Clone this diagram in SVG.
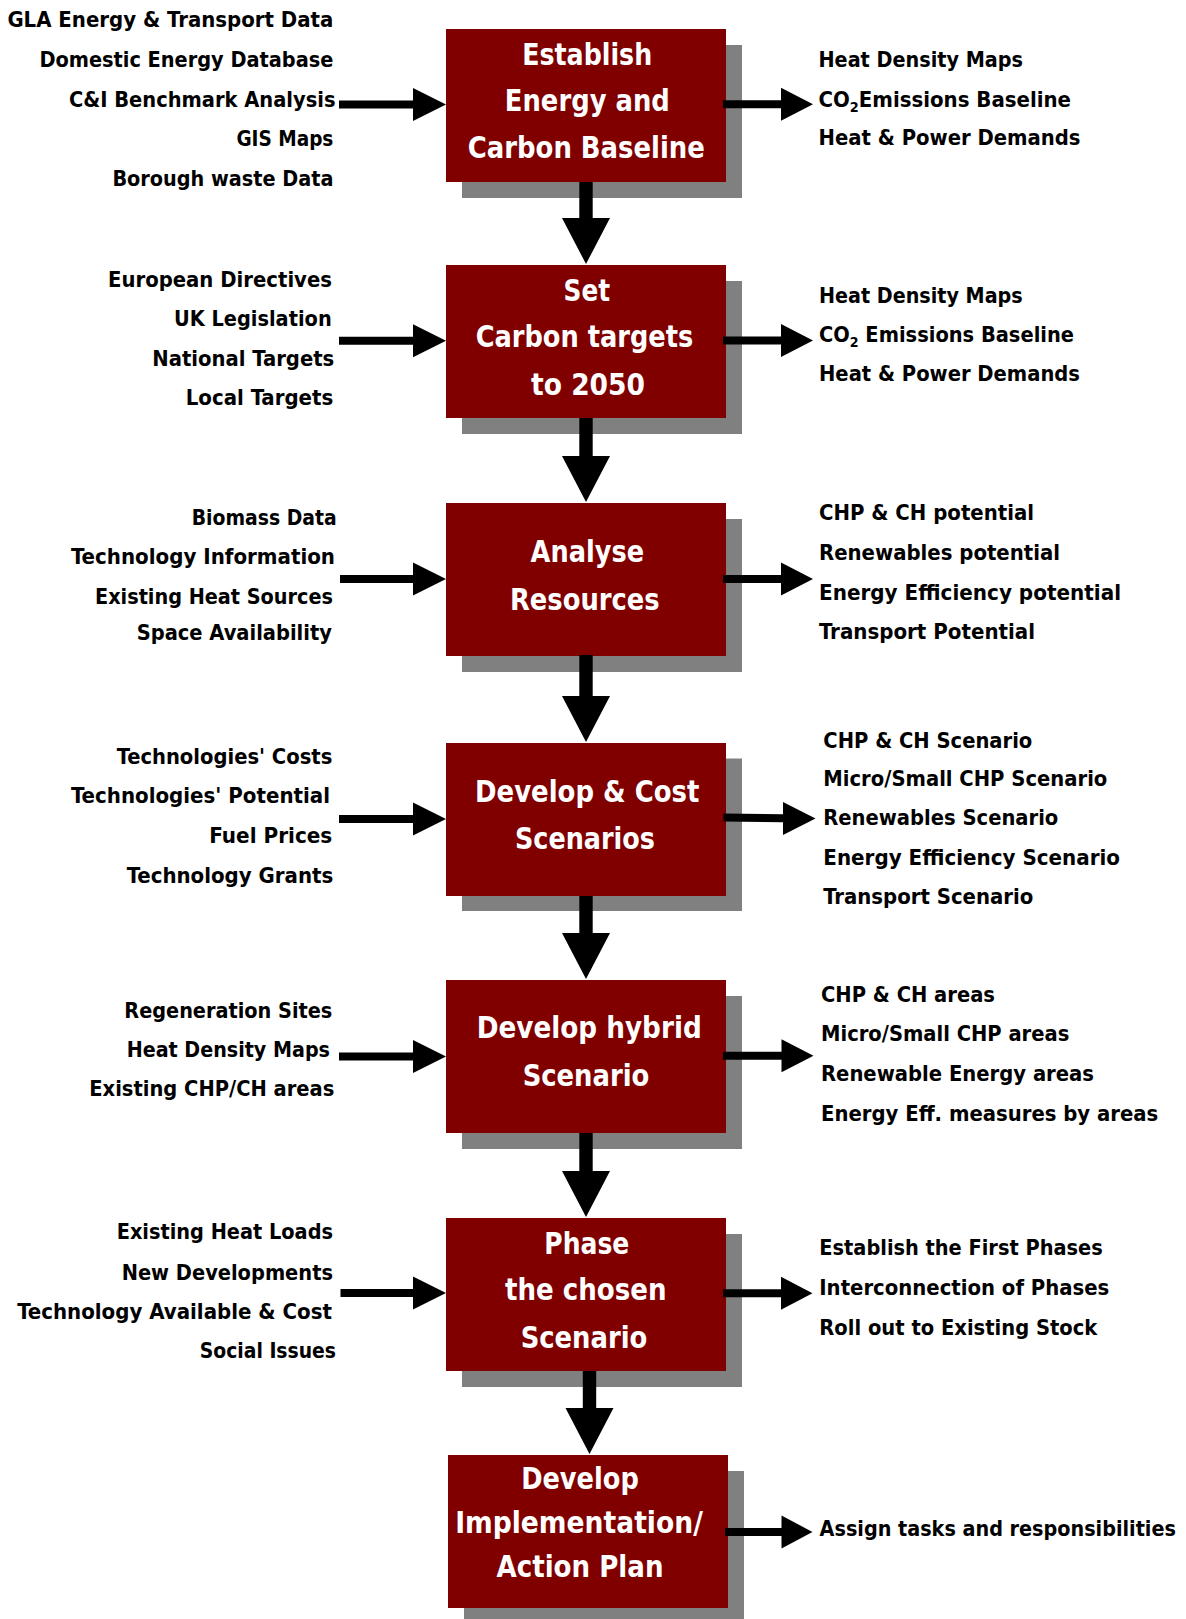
<svg xmlns="http://www.w3.org/2000/svg" width="1186" height="1619" viewBox="0 0 1186 1619">
<style>
.lbl{font-family:"DejaVu Sans Condensed","DejaVu Sans","Liberation Sans",sans-serif;font-stretch:condensed;font-weight:bold;font-size:21.5px;fill:#000}
.l{text-anchor:end}
.bt{font-family:"DejaVu Sans Condensed","DejaVu Sans","Liberation Sans",sans-serif;font-stretch:condensed;font-weight:bold;font-size:30px;fill:#fff;text-anchor:middle}
.box{fill:#800000}
.sh{fill:#808080}
.arr{fill:#000}
.sub{font-size:14px}
</style>
<rect width="1186" height="1619" fill="#fff"/>

<g id="node1">
<rect class="sh" x="462" y="45" width="280" height="153"/>
<rect class="box" x="446" y="29" width="280" height="153"/>
<text class="bt" x="587.2" y="64.5" textLength="130" lengthAdjust="spacingAndGlyphs">Establish</text>
<text class="bt" x="587.3" y="111" textLength="165" lengthAdjust="spacingAndGlyphs">Energy and</text>
<text class="bt" x="586.3" y="158" textLength="237" lengthAdjust="spacingAndGlyphs">Carbon Baseline</text>
</g>
<g id="node2">
<rect class="sh" x="462" y="281" width="280" height="153"/>
<rect class="box" x="446" y="265" width="280" height="153"/>
<text class="bt" x="586.8" y="301" textLength="46.5" lengthAdjust="spacingAndGlyphs">Set</text>
<text class="bt" x="584.5" y="347.3" textLength="217.6" lengthAdjust="spacingAndGlyphs">Carbon targets</text>
<text class="bt" x="588" y="394.8" textLength="114" lengthAdjust="spacingAndGlyphs">to 2050</text>
</g>
<g id="node3">
<rect class="sh" x="462" y="519" width="280" height="153"/>
<rect class="box" x="446" y="503" width="280" height="153"/>
<text class="bt" x="587.3" y="562" textLength="113.5" lengthAdjust="spacingAndGlyphs">Analyse</text>
<text class="bt" x="584.8" y="609.5" textLength="149.7" lengthAdjust="spacingAndGlyphs">Resources</text>
</g>
<g id="node4">
<rect class="sh" x="462" y="758.5" width="280" height="152.5"/>
<rect class="box" x="446" y="743" width="280" height="153"/>
<text class="bt" x="587.2" y="801.7" textLength="224.3" lengthAdjust="spacingAndGlyphs">Develop &amp; Cost</text>
<text class="bt" x="585" y="849" textLength="140" lengthAdjust="spacingAndGlyphs">Scenarios</text>
</g>
<g id="node5">
<rect class="sh" x="462" y="996" width="280" height="153"/>
<rect class="box" x="446" y="980" width="280" height="153"/>
<text class="bt" x="589.2" y="1038.3" textLength="225" lengthAdjust="spacingAndGlyphs">Develop hybrid</text>
<text class="bt" x="586" y="1086" textLength="126.7" lengthAdjust="spacingAndGlyphs">Scenario</text>
</g>
<g id="node6">
<rect class="sh" x="462" y="1234" width="280" height="153"/>
<rect class="box" x="446" y="1218" width="280" height="153"/>
<text class="bt" x="586.8" y="1254" textLength="85" lengthAdjust="spacingAndGlyphs">Phase</text>
<text class="bt" x="585.8" y="1300" textLength="161.7" lengthAdjust="spacingAndGlyphs">the chosen</text>
<text class="bt" x="584" y="1348.3" textLength="126.7" lengthAdjust="spacingAndGlyphs">Scenario</text>
</g>
<g id="node7">
<rect class="sh" x="464" y="1471" width="280" height="153"/>
<rect class="box" x="448" y="1455" width="280" height="153"/>
<text class="bt" x="580" y="1489" textLength="117.7" lengthAdjust="spacingAndGlyphs">Develop</text>
<text class="bt" x="579" y="1532.5" textLength="247.7" lengthAdjust="spacingAndGlyphs">Implementation/</text>
<text class="bt" x="580" y="1577" textLength="167" lengthAdjust="spacingAndGlyphs">Action Plan</text>
</g>

<g id="inputs1">
<text class="lbl l" x="333.4" y="26.6" textLength="326" lengthAdjust="spacingAndGlyphs">GLA Energy &amp; Transport Data</text>
<text class="lbl l" x="333.4" y="66.8" textLength="294" lengthAdjust="spacingAndGlyphs">Domestic Energy Database</text>
<text class="lbl l" x="335.5" y="107" textLength="266.5" lengthAdjust="spacingAndGlyphs">C&amp;I Benchmark Analysis</text>
<text class="lbl l" x="333.4" y="146.3" textLength="97" lengthAdjust="spacingAndGlyphs">GIS Maps</text>
<text class="lbl l" x="333.4" y="185.5" textLength="221" lengthAdjust="spacingAndGlyphs">Borough waste Data</text>
</g>
<g id="inputs2">
<text class="lbl l" x="332" y="286.7" textLength="224" lengthAdjust="spacingAndGlyphs">European Directives</text>
<text class="lbl l" x="331.7" y="326.3" textLength="157.7" lengthAdjust="spacingAndGlyphs">UK Legislation</text>
<text class="lbl l" x="334.3" y="366" textLength="182" lengthAdjust="spacingAndGlyphs">National Targets</text>
<text class="lbl l" x="333.3" y="405" textLength="147.6" lengthAdjust="spacingAndGlyphs">Local Targets</text>
</g>
<g id="inputs3">
<text class="lbl l" x="336.7" y="524.7" textLength="145" lengthAdjust="spacingAndGlyphs">Biomass Data</text>
<text class="lbl l" x="335" y="564" textLength="264" lengthAdjust="spacingAndGlyphs">Technology Information</text>
<text class="lbl l" x="333" y="604" textLength="238" lengthAdjust="spacingAndGlyphs">Existing Heat Sources</text>
<text class="lbl l" x="332" y="640" textLength="195.3" lengthAdjust="spacingAndGlyphs">Space Availability</text>
</g>
<g id="inputs4">
<text class="lbl l" x="332.3" y="764" textLength="215.6" lengthAdjust="spacingAndGlyphs">Technologies' Costs</text>
<text class="lbl l" x="330" y="803" textLength="259" lengthAdjust="spacingAndGlyphs">Technologies' Potential</text>
<text class="lbl l" x="332.3" y="843" textLength="123" lengthAdjust="spacingAndGlyphs">Fuel Prices</text>
<text class="lbl l" x="333.3" y="883" textLength="206.6" lengthAdjust="spacingAndGlyphs">Technology Grants</text>
</g>
<g id="inputs5">
<text class="lbl l" x="332.3" y="1018" textLength="208" lengthAdjust="spacingAndGlyphs">Regeneration Sites</text>
<text class="lbl l" x="330" y="1057.3" textLength="203.3" lengthAdjust="spacingAndGlyphs">Heat Density Maps</text>
<text class="lbl l" x="334.3" y="1096.3" textLength="245" lengthAdjust="spacingAndGlyphs">Existing CHP/CH areas</text>
</g>
<g id="inputs6">
<text class="lbl l" x="333" y="1239.4" textLength="216.3" lengthAdjust="spacingAndGlyphs">Existing Heat Loads</text>
<text class="lbl l" x="333" y="1279.7" textLength="211.3" lengthAdjust="spacingAndGlyphs">New Developments</text>
<text class="lbl l" x="332" y="1318.9" textLength="314.8" lengthAdjust="spacingAndGlyphs">Technology Available &amp; Cost</text>
<text class="lbl l" x="336" y="1358.1" textLength="136.2" lengthAdjust="spacingAndGlyphs">Social Issues</text>
</g>

<g id="outputs1">
<text class="lbl" x="818.5" y="66.8" textLength="204.5" lengthAdjust="spacingAndGlyphs">Heat Density Maps</text>
<text class="lbl" x="818.5" y="107" textLength="252.5" lengthAdjust="spacingAndGlyphs">CO<tspan class="sub" dy="5">2</tspan><tspan dy="-5">Emissions Baseline</tspan></text>
<text class="lbl" x="818.5" y="145.3" textLength="262" lengthAdjust="spacingAndGlyphs">Heat &amp; Power Demands</text>
</g>
<g id="outputs2">
<text class="lbl" x="819" y="303" textLength="203.7" lengthAdjust="spacingAndGlyphs">Heat Density Maps</text>
<text class="lbl" x="819" y="342" textLength="255" lengthAdjust="spacingAndGlyphs">CO<tspan class="sub" dy="5">2</tspan><tspan dy="-5"> Emissions Baseline</tspan></text>
<text class="lbl" x="819" y="381.3" textLength="261" lengthAdjust="spacingAndGlyphs">Heat &amp; Power Demands</text>
</g>
<g id="outputs3">
<text class="lbl" x="819" y="520.3" textLength="215" lengthAdjust="spacingAndGlyphs">CHP &amp; CH potential</text>
<text class="lbl" x="819" y="559.7" textLength="241" lengthAdjust="spacingAndGlyphs">Renewables potential</text>
<text class="lbl" x="819" y="599.7" textLength="302" lengthAdjust="spacingAndGlyphs">Energy Efficiency potential</text>
<text class="lbl" x="819" y="639" textLength="216" lengthAdjust="spacingAndGlyphs">Transport Potential</text>
</g>
<g id="outputs4">
<text class="lbl" x="823.3" y="748" textLength="209" lengthAdjust="spacingAndGlyphs">CHP &amp; CH Scenario</text>
<text class="lbl" x="823.3" y="786.3" textLength="284" lengthAdjust="spacingAndGlyphs">Micro/Small CHP Scenario</text>
<text class="lbl" x="823.3" y="825.3" textLength="235" lengthAdjust="spacingAndGlyphs">Renewables Scenario</text>
<text class="lbl" x="823.3" y="864.7" textLength="296.7" lengthAdjust="spacingAndGlyphs">Energy Efficiency Scenario</text>
<text class="lbl" x="823.3" y="904" textLength="210" lengthAdjust="spacingAndGlyphs">Transport Scenario</text>
</g>
<g id="outputs5">
<text class="lbl" x="821" y="1002" textLength="174" lengthAdjust="spacingAndGlyphs">CHP &amp; CH areas</text>
<text class="lbl" x="821" y="1041.3" textLength="248.3" lengthAdjust="spacingAndGlyphs">Micro/Small CHP areas</text>
<text class="lbl" x="821" y="1081.3" textLength="273" lengthAdjust="spacingAndGlyphs">Renewable Energy areas</text>
<text class="lbl" x="821" y="1121.3" textLength="337.3" lengthAdjust="spacingAndGlyphs">Energy Eff. measures by areas</text>
</g>
<g id="outputs6">
<text class="lbl" x="819.3" y="1255.3" textLength="283.4" lengthAdjust="spacingAndGlyphs">Establish the First Phases</text>
<text class="lbl" x="819.3" y="1294.7" textLength="290" lengthAdjust="spacingAndGlyphs">Interconnection of Phases</text>
<text class="lbl" x="819.3" y="1334.7" textLength="278" lengthAdjust="spacingAndGlyphs">Roll out to Existing Stock</text>
</g>
<g id="outputs7">
<text class="lbl" x="819.6" y="1535.7" textLength="356.3" lengthAdjust="spacingAndGlyphs">Assign tasks and responsibilities</text>
</g>

<g id="connectors" class="arr">
<!-- vertical arrows -->
<path d="M579.3 182 H592.7 V218 H610 L586 264 L562 218 H579.3 Z"/>
<path d="M579.3 418 H592.7 V456 H610 L586 502 L562 456 H579.3 Z"/>
<path d="M579.3 655 H592.7 V696 H610 L586 742 L562 696 H579.3 Z"/>
<path d="M579.3 896 H592.7 V933 H610 L586 979 L562 933 H579.3 Z"/>
<path d="M579.3 1133 H592.7 V1171 H610 L586 1217 L562 1171 H579.3 Z"/>
<path d="M582.8 1371 H596.2 V1408 H613.5 L589.5 1454 L565.5 1408 H582.8 Z"/>
<!-- left input arrows -->
<path d="M339 100.5 H413 V88 L446 104.5 L413 121 V108.5 H339 Z"/>
<path d="M339 336.7 H413 V324.2 L446 340.7 L413 357.2 V344.7 H339 Z"/>
<path d="M340 575 H413 V562.5 L446 579 L413 595.5 V583 H340 Z"/>
<path d="M339 815 H413 V802.5 L446 819 L413 835.5 V823 H339 Z"/>
<path d="M339 1052.5 H413 V1040 L446 1056.5 L413 1073 V1060.5 H339 Z"/>
<path d="M340.5 1289 H413 V1276.5 L446 1293 L413 1309.5 V1297 H340.5 Z"/>
<!-- right output arrows -->
<path d="M723 100.3 H781 V87.8 L813 104.3 L781 120.8 V108.3 H723 Z"/>
<path d="M723 336.5 H781 V324 L813 340.5 L781 357 V344.5 H723 Z"/>
<path d="M723 575 H781 V562.5 L813 579 L781 595.5 V583 H723 Z"/>
<path d="M723.5 813.5 L783 814.3 V802 L815.5 818.5 L783 835 V822.3 L723.5 821.5 Z"/>
<path d="M723 1051.7 H781.5 V1039.2 L813.5 1055.7 L781.5 1072.2 V1059.7 H723 Z"/>
<path d="M723 1289.3 H781 V1276.8 L812.5 1293.3 L781 1309.8 V1297.3 H723 Z"/>
<path d="M725 1528 H781.5 V1515.5 L812.5 1532 L781.5 1548.5 V1536 H725 Z"/>
</g>
</svg>
